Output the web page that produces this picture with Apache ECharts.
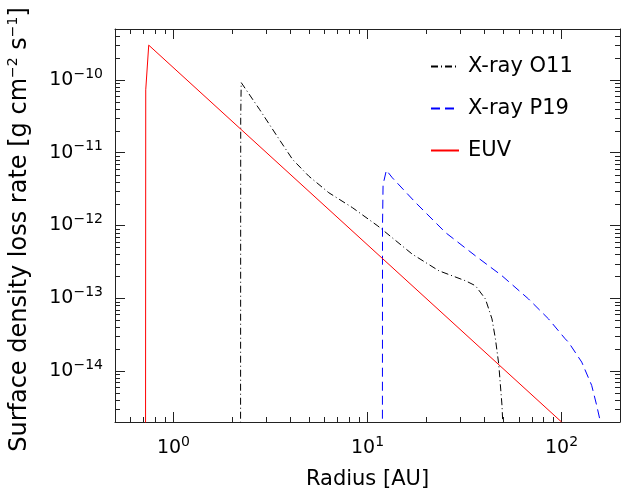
<!DOCTYPE html>
<html><head><meta charset="utf-8">
<script src="https://cdn.jsdelivr.net/npm/echarts@6/dist/echarts.min.js"></script>
<style>html,body{margin:0;padding:0;background:#fff}#c{width:621px;height:495px}</style>
</head><body><div id="c"></div>
<script>
// ---- data (radius in AU, surface density loss rate in g cm^-2 s^-1) ----
const euvR = [0.718, 0.720, 0.746, 100];
const euvV = [1e-16, 7.3e-11, 3.0e-10, 2.0e-15];

const o11R = [2.217, 2.222, 2.235, 2.785, 3.516, 4.115, 4.989, 6.319, 8.36, 11.31, 17.01, 23.32, 31.98, 35.99, 40.52, 43.80, 45.61, 47.43, 49.31, 49.71, 50.2];
const o11V = [1e-16, 3e-11, 9.18e-11, 3.89e-11, 1.51e-11, 8.05e-12, 4.75e-12, 2.82e-12, 1.76e-12, 9.84e-13, 4.04e-13, 2.39e-13, 1.74e-13, 1.49e-13, 9.78e-14, 5.21e-14, 2.78e-14, 1.26e-14, 3.40e-15, 2.1e-15, 1e-16];

const p19R = [11.93, 11.95, 12.03, 12.51, 13.43, 17.71, 25.25, 35.99, 49.31, 67.61, 85.66, 104.3, 108.5, 127.0, 142.9, 151.6, 157.9, 160.5];
const p19V = [1e-16, 1e-12, 3.66e-12, 5.74e-12, 4.52e-12, 2.06e-12, 7.99e-13, 3.83e-13, 2.04e-13, 9.77e-14, 5.21e-14, 2.78e-14, 2.50e-14, 1.33e-14, 6.37e-15, 3.40e-15, 2.1e-15, 1e-16];

const seriesNames = ['X-ray O11', 'X-ray P19', 'EUV'];
const xTickExps = [0, 1, 2];
const yTickExps = [-14, -13, -12, -11, -10];
const xMinorTicks = [0.6, 0.7, 0.8, 0.9, 2, 3, 4, 5, 6, 7, 8, 9, 20, 30, 40, 50, 60, 70, 80, 90];
const yMinorTicks = [3e-15, 4e-15, 5e-15, 6e-15, 7e-15, 8e-15, 9e-15,
  2e-14, 3e-14, 4e-14, 5e-14, 6e-14, 7e-14, 8e-14, 9e-14,
  2e-13, 3e-13, 4e-13, 5e-13, 6e-13, 7e-13, 8e-13, 9e-13,
  2e-12, 3e-12, 4e-12, 5e-12, 6e-12, 7e-12, 8e-12, 9e-12,
  2e-11, 3e-11, 4e-11, 5e-11, 6e-11, 7e-11, 8e-11, 9e-11,
  2e-10, 3e-10, 4e-10];

const xMin = 0.5, xMax = 200, yMin = 2e-15, yMax = 5e-10;
const FONT = 'DejaVu Sans';
const AX = '#222';

function zip(a, b) { return a.map((v, i) => [v, b[i]]); }
function supLabel(exps) {
  return function (v) {
    const e = Math.round(Math.log10(v));
    if (Math.abs(Math.log10(v) - e) > 1e-6 || exps.indexOf(e) < 0) return '';
    return '{b|10}{s|' + (e < 0 ? '\u2212' + (-e) : String(e)) + '}';
  };
}
const richX = {
  b: { fontFamily: FONT, fontSize: 19, color: '#000' },
  s: { fontFamily: FONT, fontSize: 14, color: '#000', padding: [0, 0, 12, 0] }
};

const chart = echarts.init(document.getElementById('c'), null, { renderer: 'canvas' });

function baseAxis(extra) {
  return Object.assign({
    type: 'log', logBase: 10,
    axisLine: { show: true, lineStyle: { color: AX, width: 1 } },
    axisTick: { show: true, inside: true, length: 10, lineStyle: { color: AX, width: 1 } },
    splitLine: { show: false },
    axisLabel: { show: false }
  }, extra);
}
const option = {
  animation: false,
  grid: { left: 115, right: 1, top: 29, bottom: 73, containLabel: false, outerBoundsMode: 'none' },
  legend: {
    data: seriesNames,
    orient: 'vertical', left: 430, top: 56, padding: 0,
    itemWidth: 28, itemHeight: 14, itemGap: 21,
    itemStyle: { opacity: 0 },
    textStyle: { fontFamily: FONT, fontSize: 21, color: '#000', padding: [0, 0, 0, 4] },
    selectedMode: false
  },
  xAxis: [
    baseAxis({
      position: 'bottom', min: xMin, max: xMax,
      name: 'Radius [AU]', nameLocation: 'middle', nameGap: 47,
      nameTextStyle: { fontFamily: FONT, fontSize: 21, color: '#000' },
      axisLabel: { show: true, margin: 13, showMinLabel: false, showMaxLabel: false,
        formatter: supLabel(xTickExps), rich: richX }
    }),
    baseAxis({ position: 'top', min: xMin, max: xMax })
  ],
  yAxis: [
    baseAxis({
      position: 'left', min: yMin, max: yMax,
      name: '{b|Surface density loss rate [g cm}{s|\u22122}{b| s}{s|\u22121}{b|]}',
      nameLocation: 'middle', nameGap: 81, nameRotate: 90,
      nameTextStyle: { padding: [0, 8, 0, 0], rich: {
        b: { fontFamily: FONT, fontSize: 24, color: '#000' },
        s: { fontFamily: FONT, fontSize: 14, color: '#000', padding: [0, 0, 14, 0] }
      } },
      axisLabel: { show: true, margin: 12, showMinLabel: false, showMaxLabel: false,
        formatter: supLabel(yTickExps), rich: richX }
    }),
    baseAxis({ position: 'right', min: yMin, max: yMax })
  ],
  series: [
    { name: 'X-ray O11', type: 'line', data: zip(o11R, o11V), showSymbol: false,
      lineStyle: { color: '#000', width: 1, type: [7, 3, 1, 3] }, itemStyle: { color: '#000' } },
    { name: 'X-ray P19', type: 'line', data: zip(p19R, p19V), showSymbol: false,
      lineStyle: { color: '#0000ff', width: 1, type: [9, 5] }, itemStyle: { color: '#0000ff' } },
    { name: 'EUV', type: 'line', data: zip(euvR, euvV), showSymbol: false,
      lineStyle: { color: '#ff0000', width: 1 }, itemStyle: { color: '#ff0000' } },
    { type: 'custom', silent: true, clip: false,
      data: xMinorTicks.map(v => [v, yMin]), encode: { x: 0, y: 1 },
      renderItem: function (params, api) {
        const cs = params.coordSys;
        const x = Math.round(api.coord([api.value(0), yMin])[0]) + 0.5;
        const st = { stroke: AX, lineWidth: 1 };
        return { type: 'group', children: [
          { type: 'line', shape: { x1: x, y1: cs.y + cs.height, x2: x, y2: cs.y + cs.height - 5 }, style: st },
          { type: 'line', shape: { x1: x, y1: cs.y, x2: x, y2: cs.y + 5 }, style: st }
        ] };
      } },
    { type: 'custom', silent: true, clip: false,
      data: yMinorTicks.map(v => [xMin, v]), encode: { x: 0, y: 1 },
      renderItem: function (params, api) {
        const cs = params.coordSys;
        const y = Math.round(api.coord([xMin, api.value(1)])[1]) + 0.5;
        const st = { stroke: AX, lineWidth: 1 };
        return { type: 'group', children: [
          { type: 'line', shape: { x1: cs.x, y1: y, x2: cs.x + 5, y2: y }, style: st },
          { type: 'line', shape: { x1: cs.x + cs.width, y1: y, x2: cs.x + cs.width - 5, y2: y }, style: st }
        ] };
      } }
  ]
};
chart.setOption(option);
</script>
</body></html>
